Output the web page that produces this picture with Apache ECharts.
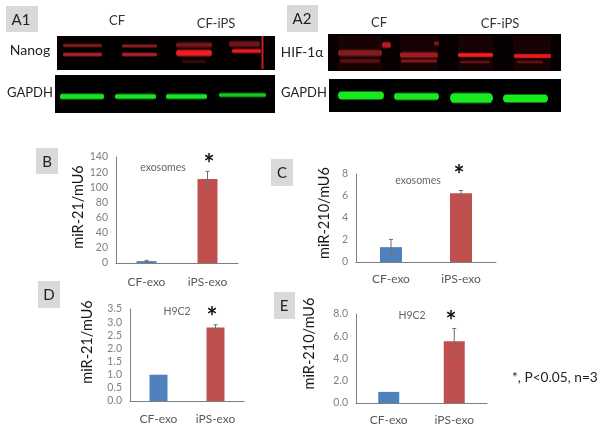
<!DOCTYPE html>
<html lang="en">
<head>
    <meta charset="utf-8">
    <title>miR-21 and miR-210</title>
    <script src="https://cdn.jsdelivr.net/npm/echarts@6/dist/echarts.min.js"></script>
    <style>
        html, body { margin: 0; padding: 0; background: #fff; }
        #main { width: 602px; height: 429px; }
    </style>
</head>
<body>
<div id="main"></div>

<script type="text/javascript">
    // values
    var categories = ['CF-exo', 'iPS-exo'];
    var valuesB = [2.5, 111], errorsB = [1, 10];
    var valuesC = [1.35, 6.25], errorsC = [0.7, 0.25];
    var valuesD = [1.0, 2.8], errorsD = [0, 0.1];
    var valuesE = [1.0, 5.55], errorsE = [0, 1.15];
    var barColors = ['#4f81bd', '#c0504d'];
    var font = 'Lato';

    // one entry per bar panel: plot box in page pixels, axis range
    var panels = [
        { values: valuesB, errors: errorsB, name: 'miR-21/mU6', left: 116, top: 157, w: 122, h: 106, max: 140, step: 20, digits: 0, barW: 20, gap: 26, shift: 3, labelGap: 13 },
        { values: valuesC, errors: errorsC, name: 'miR-210/mU6', left: 356, top: 174, w: 140, h: 88, max: 8, step: 2, digits: 0, barW: 22, gap: 24, shift: 5, labelGap: 11 },
        { values: valuesD, errors: errorsD, name: 'miR-21/mU6', left: 130, top: 309, w: 114, h: 92, max: 3.5, step: 0.5, digits: 1, barW: 18, gap: 35, shift: 13, labelGap: 12 },
        { values: valuesE, errors: errorsE, name: 'miR-210/mU6', left: 356, top: 314, w: 131, h: 89, max: 8, step: 2, digits: 1, barW: 21, gap: 39, shift: 15, labelGap: 11 }
    ];

    var grids = [], xAxes = [], yAxes = [], series = [];

    panels.forEach(function (p, i) {
        grids.push({ left: p.left, top: p.top, width: p.w, height: p.h });
        xAxes.push({
            gridIndex: i,
            type: 'category',
            data: categories,
            axisTick: { show: false },
            axisLine: { lineStyle: { color: '#7f7f7f', width: 1 } },
            axisLabel: { color: '#595959', fontFamily: font, fontSize: 12, margin: p.labelGap }
        });
        yAxes.push({
            gridIndex: i,
            type: 'value',
            min: 0,
            max: p.max,
            interval: p.step,
            splitLine: { show: false },
            axisTick: { show: false },
            axisLine: { show: true, lineStyle: { color: '#7f7f7f', width: 1 } },
            axisLabel: {
                color: '#7f7f7f', fontFamily: font, fontSize: 10.5, margin: 8,
                formatter: function (v) { return v.toFixed(p.digits); }
            },
            name: p.name,
            nameLocation: 'middle',
            nameGap: p.gap,
            nameTextStyle: { color: '#1a1a1a', fontFamily: font, fontSize: 14.5, padding: [0, 0, 0, p.shift * 2] }
        });
        series.push({
            type: 'bar',
            xAxisIndex: i,
            yAxisIndex: i,
            barWidth: p.barW,
            data: p.values.map(function (v, k) {
                return { value: v, itemStyle: { color: barColors[k] } };
            }),
            silent: true
        });
        series.push({
            type: 'custom',
            xAxisIndex: i,
            yAxisIndex: i,
            z: 5,
            silent: true,
            data: p.values.map(function (v, k) { return [k, v - p.errors[k], v + p.errors[k]]; }),
            renderItem: function (params, api) {
                var lo = api.coord([api.value(0), api.value(1)]);
                var hi = api.coord([api.value(0), api.value(2)]);
                if (hi[1] === lo[1]) return null;
                var style = { stroke: '#6e6e6e', lineWidth: 1, fill: null };
                return {
                    type: 'group',
                    children: [
                        { type: 'line', shape: { x1: lo[0], y1: lo[1], x2: hi[0], y2: hi[1] }, style: style },
                        { type: 'line', shape: { x1: hi[0] - 2, y1: hi[1], x2: hi[0] + 2, y2: hi[1] }, style: style },
                        { type: 'line', shape: { x1: lo[0] - 2, y1: lo[1], x2: lo[0] + 2, y2: lo[1] }, style: style }
                    ]
                };
            }
        });
    });

    // blot pictures and free text
    var graphics = [];

    function box(x, y, w, h, color, z) {
        graphics.push({ type: 'rect', shape: { x: x, y: y, width: w, height: h }, style: { fill: color }, z: z || 1 });
    }
    // soft horizontal band: solid core of height h, fading over `soft` px above and below
    function band(x, y, w, h, color, soft) {
        var total = h + soft * 2;
        var clear = echarts.color.modifyAlpha(color, 0);
        var edge = soft / total;
        graphics.push({
            type: 'rect',
            shape: { x: x, y: y - total / 2, width: w, height: total, r: total / 2 },
            style: {
                fill: {
                    type: 'linear', x: 0, y: 0, x2: 0, y2: 1,
                    colorStops: [
                        { offset: 0, color: clear },
                        { offset: edge, color: color },
                        { offset: 1 - edge, color: color },
                        { offset: 1, color: clear }
                    ]
                }
            },
            z: 2
        });
    }
    function label(text, x, y, size, color, align, weight) {
        graphics.push({
            type: 'text', x: x, y: y, z: 3,
            style: {
                text: text, fill: color, fontFamily: font, fontSize: size,
                fontWeight: weight || 'normal',
                textAlign: align || 'center', textVerticalAlign: 'middle'
            }
        });
    }

    // panel letters
    box(6, 6, 32, 26, '#d9d9d9');
    box(287, 5, 31, 27, '#d9d9d9');
    box(36, 148, 22, 26, '#d9d9d9');
    box(271, 159, 22, 27, '#d9d9d9');
    box(38, 281, 22, 27, '#d9d9d9');
    box(274, 292, 21, 27, '#d9d9d9');
    label('A1', 21, 20, 15, '#222');
    label('A2', 302, 19, 15, '#222');
    label('B', 47, 162, 15, '#222');
    label('C', 282, 173, 15, '#222');
    label('D', 49, 295, 15, '#222');
    label('E', 284, 306, 15, '#222');

    // A1 blots
    box(57, 36, 218, 34, '#050000');
    box(55, 75, 220, 38, '#000');
    band(63, 45.5, 39, 1, '#8a1a1e', 2);
    band(63, 54.5, 39, 1.5, '#a8232a', 2);
    band(122, 46, 35, 1, '#8a1a1e', 2);
    band(122, 54.5, 35, 1.5, '#a8232a', 2);
    band(176, 45, 36, 2, '#7a161a', 3);
    band(176, 53, 36, 4, '#f01c1f', 2.5);
    band(182, 61.5, 24, 1, '#3a0a0a', 2);
    band(229, 44, 31, 3, '#701316', 2.5);
    band(232, 51, 29, 2, '#e81a1e', 2);
    box(261.5, 36, 2, 33, '#c81a20', 2);
    band(60, 96.5, 44, 3.5, '#17e51f', 2);
    band(115, 96.5, 41, 3, '#17e51f', 2);
    band(166, 96.5, 41, 3, '#17e51f', 2);
    band(219, 95, 47, 2, '#12c91b', 2);

    // A2 blots
    box(328, 34, 233, 37, '#060000');
    box(329, 79, 232, 33, '#000');
    box(338, 36, 44, 34, '#180304', 2);
    box(400, 36, 38, 34, '#180304', 2);
    box(458, 36, 35, 34, '#180304', 2);
    box(513, 36, 38, 34, '#180304', 2);
    band(338, 53, 44, 3, '#8a1a1e', 3);
    band(340, 61, 40, 1, '#5e1013', 2.5);
    band(382, 45, 9, 4, '#b81a20', 2);
    band(400, 55, 38, 3, '#9e1c21', 2.5);
    band(401, 61, 36, 1, '#82161a', 2);
    band(434, 43.5, 5, 2, '#8a1216', 2);
    band(458, 55, 35, 2.5, '#f51c1d', 1.5);
    band(460, 62, 30, 1, '#601013', 1.5);
    band(514, 56, 37, 2.5, '#e81a1e', 1.5);
    band(517, 62, 26, 1, '#601013', 1.5);
    band(338, 95.5, 46, 6, '#17ea1f', 2);
    band(394, 96.5, 45, 5, '#17ea1f', 2);
    band(450, 98, 43, 8, '#17ea1f', 2);
    band(503, 98.5, 45, 6, '#17ea1f', 2);

    // blot labels
    label('CF', 117, 21, 13, '#333');
    label('CF-iPS', 216, 24, 13, '#333');
    label('Nanog', 30, 50, 14, '#222');
    label('GAPDH', 30, 93, 13, '#222');
    label('CF', 379, 23, 13, '#333');
    label('CF-iPS', 500, 24, 13, '#333');
    label('HIF-1α', 302, 53, 13.5, '#222');
    label('GAPDH', 304, 93, 13, '#222');

    // notes inside the bar panels
    label('exosomes', 163, 168, 10.5, '#666');
    label('exosomes', 418, 181, 10.5, '#666');
    label('H9C2', 177, 312, 10.5, '#666');
    label('H9C2', 412, 316, 10.5, '#666');
    label('*', 209, 165, 26, '#111', 'center', 'bold');
    label('*', 459, 176, 26, '#111', 'center', 'bold');
    label('*', 212, 318, 26, '#111', 'center', 'bold');
    label('*', 451, 322, 26, '#111', 'center', 'bold');
    label('*, P<0.05, n=3', 512, 378, 13.7, '#222', 'left');

    var myChart = echarts.init(document.getElementById('main'));

    myChart.setOption({
        animation: false,
        backgroundColor: '#fff',
        grid: grids,
        xAxis: xAxes,
        yAxis: yAxes,
        series: series,
        graphic: graphics
    });
</script>
</body>
</html>
